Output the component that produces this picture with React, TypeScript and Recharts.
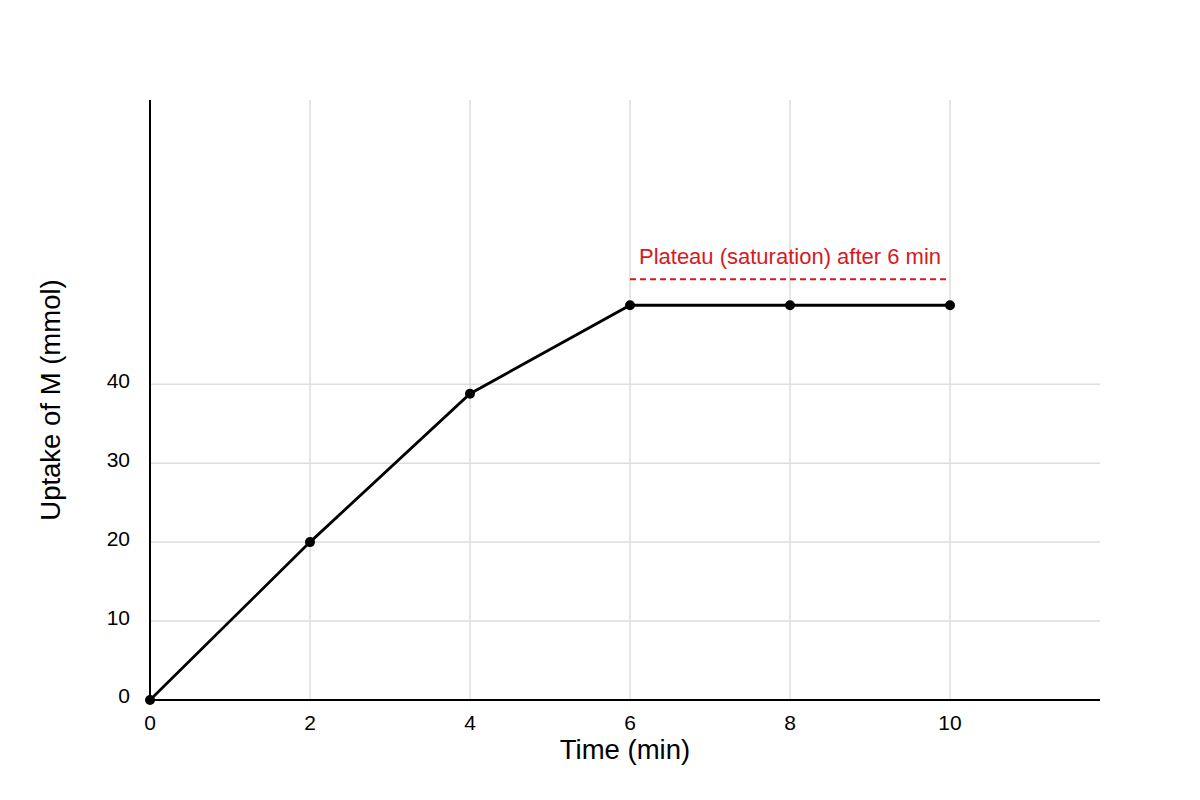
import { LineChart, Line, XAxis, YAxis, CartesianGrid, ReferenceLine } from "recharts";

// time (min) and uptake of M (mmol)
const times = [0, 2, 4, 6, 8, 10];
const uptake = [0, 20, 38.8, 50, 50, 50];

const xTicks = [0, 2, 4, 6, 8, 10];
const yTicks = [0, 10, 20, 30, 40];

// dashed plateau marker
const plateauLevel = 53.3;
const plateauFrom = 6;
const plateauTo = 10;
const plateauText = "Plateau (saturation) after 6 min";

const data = times.map((t, i) => ({ t, uptake: uptake[i] }));

const RED = "#d7191c";
const FONT = "'Liberation Sans', Arial, sans-serif";

export default function App() {
  return (
    <div style={{ position: "absolute", left: 0, top: 0, width: 1200, height: 800, background: "#fff", fontFamily: FONT }}>
      <LineChart
        width={1200}
        height={800}
        data={data}
        margin={{ top: 100, right: 100, bottom: 0, left: 0 }}
        style={{ fontFamily: FONT }}
      >
        <CartesianGrid stroke="#dddddd" strokeWidth={1.5} syncWithTicks />
        <XAxis
          type="number"
          dataKey="t"
          domain={[0, 11.875]}
          ticks={xTicks}
          height={100}
          tickLine={false}
          tickSize={0}
          tickMargin={15}
          axisLine={{ stroke: "#000", strokeWidth: 2 }}
          tick={{ fontSize: 21, fill: "#000" }}
          label={{ value: "Time (min)", position: "insideBottom", offset: 41, fontSize: 27.5, fill: "#000" }}
        />
        <YAxis
          type="number"
          domain={[0, 76]}
          ticks={yTicks}
          width={150}
          tickLine={false}
          tickSize={0}
          tickMargin={20}
          axisLine={{ stroke: "#000", strokeWidth: 2 }}
          tick={{ fontSize: 21, fill: "#000", dy: -4 }}
          label={{
            value: "Uptake of M (mmol)",
            angle: -90,
            position: "insideLeft",
            offset: 50,
            fontSize: 27.5,
            fill: "#000",
            style: { textAnchor: "middle" },
          }}
        />
        <ReferenceLine
          segment={[
            { x: plateauFrom, y: plateauLevel },
            { x: plateauTo, y: plateauLevel },
          ]}
          stroke={RED}
          strokeWidth={2}
          strokeDasharray="6 4"
          label={{ value: plateauText, position: "top", offset: 15, fontSize: 22, fill: RED }}
        />
        <Line
          type="linear"
          dataKey="uptake"
          stroke="#000"
          strokeWidth={2.8}
          dot={{ r: 5, fill: "#000", stroke: "none" }}
          activeDot={false}
          isAnimationActive={false}
        />
      </LineChart>
    </div>
  );
}
